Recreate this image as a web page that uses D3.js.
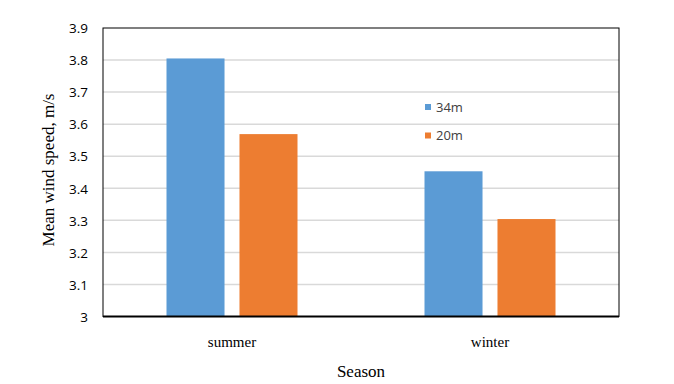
<!DOCTYPE html>
<html>
<head>
<meta charset="utf-8">
<script src="https://cdn.jsdelivr.net/npm/d3@7"></script>
<style>
  body { margin: 0; background: #fff; }
</style>
</head>
<body>
<svg id="chart" width="674" height="384"></svg>
<script>
let seasons = ['summer', 'winter']
let series = ['34m', '20m']
let speed34 = [3.805, 3.453]
let speed20 = [3.569, 3.304]
let yTicks = [3, 3.1, 3.2, 3.3, 3.4, 3.5, 3.6, 3.7, 3.8, 3.9]
let colors = ['#5b9bd5', '#ed7d31']

let sansFont = '"Open Sans", Carlito, "Liberation Sans", sans-serif'
let serifFont = '"Liberation Serif", "Times New Roman", serif'

let svg = d3.select('#chart')
let m = {left: 103, right: 619, top: 28, bottom: 316.5}

let x = d3.scaleBand()
  .domain(seasons)
  .range([m.left, m.right])

// two bars per season, 58px wide with a 15px gap
let x1 = d3.scaleBand()
  .domain(series)
  .range([0, 131])
  .paddingInner(0.205)

let y = d3.scaleLinear()
  .domain([3, 3.9])
  .range([m.bottom, m.top])

// grid lines
svg.append('g')
  .selectAll('line')
  .data(yTicks.slice(1, -1))
  .enter()
  .append('line')
  .attr('x1', m.left)
  .attr('x2', m.right)
  .attr('y1', d => y(d))
  .attr('y2', d => y(d))
  .attr('stroke', '#d9d9d9')
  .attr('stroke-width', 1.5)

let rows = seasons.map((s, i) => ({season: s, values: [speed34[i], speed20[i]]}))

let groups = svg.append('g')
  .selectAll('g')
  .data(rows)
  .enter()
  .append('g')
  .attr('transform', d => `translate(${x(d.season) + x.bandwidth() / 2 - 65.5},0)`)

groups.selectAll('rect')
  .data(d => d.values.map((v, j) => ({key: series[j], value: v, j})))
  .enter()
  .append('rect')
  .attr('x', d => x1(d.key))
  .attr('width', x1.bandwidth())
  .attr('y', d => y(d.value))
  .attr('height', d => y(3) - y(d.value))
  .attr('fill', d => colors[d.j])

// frame
svg.append('rect')
  .attr('x', m.left)
  .attr('y', m.top)
  .attr('width', m.right - m.left)
  .attr('height', m.bottom - m.top)
  .attr('fill', 'none')
  .attr('stroke', '#000')
  .attr('stroke-width', 1)
svg.append('line')
  .attr('x1', m.left)
  .attr('x2', m.right)
  .attr('y1', m.bottom)
  .attr('y2', m.bottom)
  .attr('stroke', '#000')
  .attr('stroke-width', 2)

// y axis labels
let yAxis = svg.append('g')
  .attr('transform', `translate(${m.left - 15},0)`)
  .call(d3.axisLeft(y).tickValues(yTicks).tickSize(0).tickFormat(d3.format('')))
yAxis.select('.domain').remove()
yAxis.selectAll('text')
  .attr('font-family', sansFont)
  .attr('font-size', 13.5)
  .attr('fill', '#000')
  .attr('x', 0)
  .attr('dy', '0.35em')

// x axis labels
let xAxis = svg.append('g')
  .attr('transform', `translate(0,${m.bottom + 18})`)
  .call(d3.axisBottom(x).tickSize(0))
xAxis.select('.domain').remove()
xAxis.selectAll('text')
  .attr('font-family', serifFont)
  .attr('font-size', 15)
  .attr('fill', '#000')
  .attr('y', 0)
  .attr('dy', '0.8em')

svg.append('text')
  .attr('x', 361)
  .attr('y', 377)
  .attr('text-anchor', 'middle')
  .attr('font-family', serifFont)
  .attr('font-size', 17)
  .text('Season')

svg.append('text')
  .attr('transform', 'translate(54,170) rotate(-90)')
  .attr('text-anchor', 'middle')
  .attr('font-family', serifFont)
  .attr('font-size', 17)
  .text('Mean wind speed, m/s')

// legend
let legend = svg.append('g')
  .selectAll('g')
  .data(series)
  .enter()
  .append('g')
  .attr('transform', (d, i) => `translate(425,${107 + i * 28.5})`)
legend.append('rect')
  .attr('x', 0)
  .attr('y', -3)
  .attr('width', 6)
  .attr('height', 6)
  .attr('fill', (d, i) => colors[i])
legend.append('text')
  .attr('x', 11)
  .attr('dy', '0.35em')
  .attr('font-family', sansFont)
  .attr('font-size', 13)
  .attr('fill', '#404040')
  .text(d => d)
</script>
</body>
</html>
